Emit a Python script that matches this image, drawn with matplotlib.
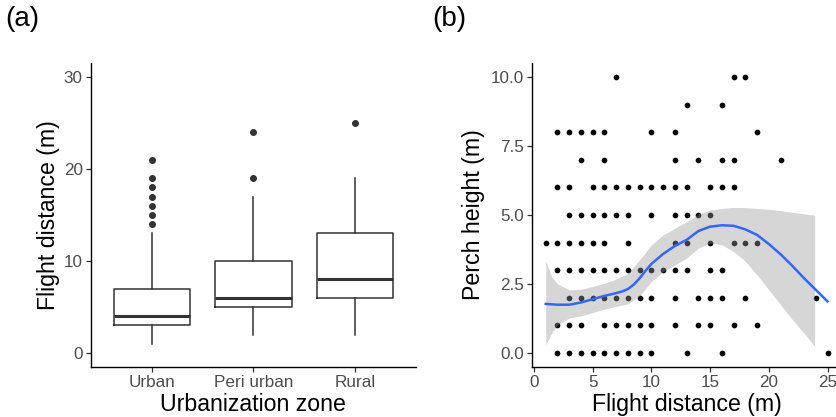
import matplotlib
matplotlib.use("Agg")
import matplotlib.pyplot as plt
import numpy as np

plt.rcParams['font.family'] = ['Liberation Sans', 'DejaVu Sans']

zones = ["Urban", "Peri urban", "Rural"]
q1 = [3, 5, 6]
medianes = [4, 6, 8]
q3 = [7, 10, 13]
moust_bas = [1, 2, 2]
moust_haut = [13, 17, 19]
aberrants = [[14, 15, 16, 17, 18, 19, 21], [19, 24], [25]]

# (b) hauteur du perchoir vs distance de fuite, une ligne par hauteur
hauteurs = [10, 9, 8, 7, 6, 5, 4, 3, 2, 1, 0]
distances = [
    [7, 17, 18],
    [13, 16],
    [2, 3, 4, 5, 6, 10, 12, 19],
    [4, 6, 12, 14, 16, 17, 21],
    [2, 3, 5, 6, 7, 8, 9, 10, 11, 12, 13, 15, 16, 17],
    [3, 4, 5, 6, 7, 8, 10, 12, 13, 14, 15],
    [1, 2, 3, 4, 5, 6, 8, 12, 13, 15, 17, 18, 19],
    [2, 3, 4, 5, 6, 7, 8, 9, 10, 11, 12, 13, 15, 16],
    [3, 4, 5, 6, 7, 8, 9, 10, 12, 14, 15, 16, 18, 24],
    [2, 3, 4, 6, 7, 8, 9, 10, 12, 14, 15, 17, 19],
    [2, 3, 4, 5, 6, 7, 8, 9, 10, 13, 16, 25],
]

# courbe loess et intervalle
courbe_x = [1, 2, 3, 4, 5, 6, 7, 7.5, 8, 8.5, 9, 9.5, 10, 11, 12, 13, 14, 15, 16, 17, 18, 19, 20,
            21, 22, 23, 24, 25]
courbe_y = [1.78, 1.75, 1.75, 1.83, 1.95, 2.07, 2.17, 2.23, 2.32, 2.48, 2.71, 2.98, 3.23, 3.59,
            3.88, 4.10, 4.42, 4.58, 4.63, 4.61, 4.48, 4.28, 3.95, 3.58, 3.16, 2.71, 2.29, 1.87]
bande_x = [1, 1.5, 2, 3, 4, 5, 6, 7, 8, 9, 10, 11, 12, 13, 14, 15, 16, 17, 18, 19, 20, 21, 22, 23, 23.9]
bande_haut = [3.32, 2.77, 2.50, 2.29, 2.31, 2.41, 2.53, 2.68, 2.89, 3.38, 3.92, 4.28, 4.52, 4.76,
              5.04, 5.18, 5.24, 5.28, 5.27, 5.24, 5.21, 5.16, 5.10, 5.04, 5.00]
bande_bas = [0.30, 0.72, 1.02, 1.27, 1.35, 1.47, 1.59, 1.69, 1.78, 2.07, 2.59, 2.95, 3.19, 3.44,
             3.80, 3.98, 3.92, 3.68, 3.32, 2.83, 2.29, 1.75, 1.21, 0.72, 0.24]

GRIS_TXT = '#4D4D4D'
GRIS_BOX = '#333333'


def style_axe(ax):
    for cote in ['top', 'right']:
        ax.spines[cote].set_visible(False)
    for cote in ['left', 'bottom']:
        ax.spines[cote].set_linewidth(1.0)
        ax.spines[cote].set_color('black')
    ax.tick_params(axis='both', length=3.5, width=0.9, color='#333333',
                   labelsize=12.3, labelcolor=GRIS_TXT, pad=2.2)
    ax.set_facecolor('white')


fig = plt.figure(figsize=(8.37, 4.17), dpi=100)
ax1 = fig.add_axes([0.1084, 0.1204, 0.3887, 0.7278])
ax2 = fig.add_axes([0.6352, 0.1204, 0.3703, 0.7278])

# ---- (a) boîtes à moustaches
stats = []
for i, nom in enumerate(zones):
    stats.append(dict(label=nom, q1=q1[i], med=medianes[i], q3=q3[i],
                      whislo=moust_bas[i], whishi=moust_haut[i], fliers=aberrants[i]))
ax1.bxp(stats, positions=[1, 2, 3], widths=0.75, showcaps=False,
        boxprops=dict(color=GRIS_BOX, linewidth=1.1),
        medianprops=dict(color=GRIS_BOX, linewidth=2.2),
        whiskerprops=dict(color=GRIS_BOX, linewidth=1.1),
        flierprops=dict(marker='o', markerfacecolor=GRIS_BOX, markeredgecolor=GRIS_BOX,
                        markersize=4.0))
ax1.set_xlim(0.4, 3.6)
ax1.set_ylim(-1.5, 31.5)
ax1.set_yticks([0, 10, 20, 30])
ax1.set_xlabel("Urbanization zone", fontsize=16.7, labelpad=2.5)
ax1.set_ylabel("Flight distance (m)", fontsize=16.7, labelpad=3)
style_axe(ax1)

# ---- (b) nuage de points + lissage
px, py = [], []
for h, ds in zip(hauteurs, distances):
    px += ds
    py += [h] * len(ds)
ax2.scatter(px, py, s=17, color='black', linewidths=0, zorder=2)
ax2.fill_between(bande_x, bande_bas, bande_haut, color='#999999', alpha=0.4,
                 linewidth=0, zorder=3)
ax2.plot(courbe_x, courbe_y, color='#3366FF', linewidth=1.8, zorder=4)
ax2.set_xlim(-0.2, 26.2)
ax2.set_ylim(-0.5, 10.5)
ax2.set_xticks([0, 5, 10, 15, 20, 25])
ax2.set_yticks([0, 2.5, 5, 7.5, 10])
ax2.set_yticklabels(["0.0", "2.5", "5.0", "7.5", "10.0"])
ax2.set_xlabel("Flight distance (m)", fontsize=16.7, labelpad=2.5)
ax2.set_ylabel("Perch height (m)", fontsize=16.7, labelpad=4)
style_axe(ax2)

fig.text(0.006, 0.985, "(a)", fontsize=20, va='top', ha='left')
fig.text(0.516, 0.985, "(b)", fontsize=20, va='top', ha='left')

fig.savefig("out.png", dpi=100)
